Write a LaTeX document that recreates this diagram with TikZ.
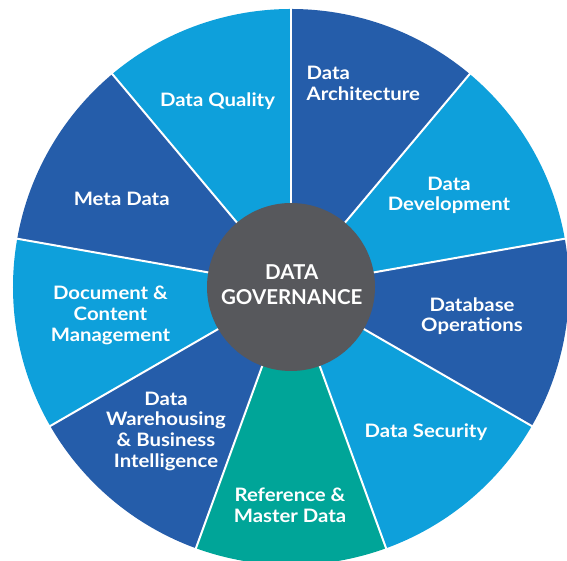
\documentclass[tikz,border=0pt]{standalone}
\usepackage{fontspec}
\setmainfont{Lato}
\newfontfamily\lblfont{Lato}[FakeStretch=1.1]
\definecolor{dblue}{RGB}{37,93,170}
\definecolor{lblue}{RGB}{14,160,219}
\definecolor{tealseg}{RGB}{0,165,152}
\definecolor{hubgrey}{RGB}{87,88,92}
\begin{document}
\begin{tikzpicture}[x=1pt,y=1pt,
  divider/.style={draw=white, line width=2pt},
  lbl/.style={text=white, font=\lblfont\bfseries\fontsize{18.5}{20.7}\selectfont, align=center, inner sep=0pt},
  hubstyle/.style={circle, fill=hubgrey, minimum size=168pt, inner sep=0pt},
  titlestyle/.style={text=white, font=\bfseries\fontsize{20.5}{24.4}\selectfont, align=center, inner sep=0pt}]
\useasboundingbox (0,0) rectangle (567,561);
\fill[white] (0,0) rectangle (567,561);
\clip (0,0) rectangle (567,561);
\coordinate (C) at (291,274);
\foreach \a/\c in {90/dblue,50/lblue,10/dblue,-30/lblue,-70/tealseg,-110/dblue,-150/lblue,-190/dblue,-230/lblue}
  \fill[\c] (C) -- ++(\a:278) arc[start angle=\a, end angle=\a-40, radius=278] -- cycle;
\foreach \a [count=\i] in {90,50,10,-30,-70,-110,-150,-190,-230}{
  \path (C) ++(\a:285) coordinate (e\i);
  \draw[divider] (C) -- (e\i);
}
\node[hubstyle] (hub) at (C) {};
\node[titlestyle] (title) at (291.7,276.2) {DATA\\GOVERNANCE};
\node[lbl, align=left, anchor=west] (arch) at (306.5,477.5) {Data\\Architecture};
\node[lbl] (quality) at (217.5,460.1) {Data Quality};
\node[lbl] (meta) at (121.7,362.4) {Meta Data};
\node[lbl] (dev) at (449,365.6) {Data\\Development};
\node[lbl] (ops) at (472,244.8) {Database\\Operations};
\node[lbl] (sec) at (425.9,129.2) {Data Security};
\node[lbl] (ref) at (290,56) {Reference \&\\Master Data};
\node[lbl] (dw) at (166,129.7) {Data\\Warehousing\\\& Business\\Intelligence};
\node[lbl] (doc) at (110.5,245.6) {Document \&\\Content\\Management};
\end{tikzpicture}
\end{document}
